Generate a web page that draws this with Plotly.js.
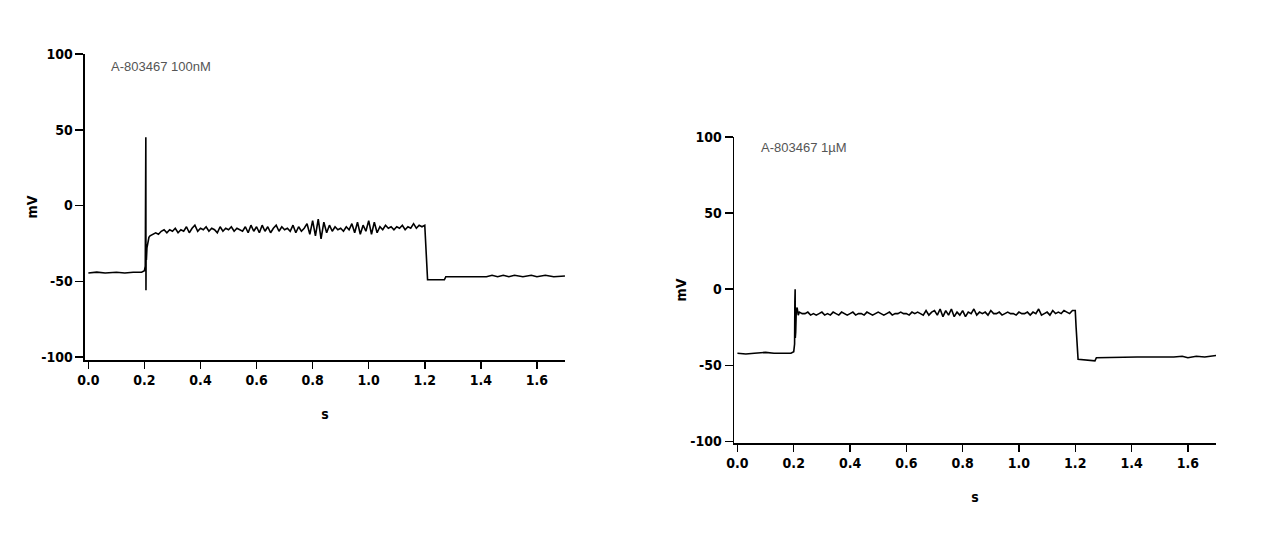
<!DOCTYPE html>
<html>
<head>
<meta charset="utf-8">
<script src="https://cdn.plot.ly/plotly-3.0.1.min.js"></script>
<style>
  html, body { margin: 0; padding: 0; background: #fff; }
  #plot { width: 1263px; height: 539px; }
</style>
</head>
<body>
<div id="plot"></div>
<script>
// time points (s) and membrane potential (mV)
var tStart = [0, 0.03, 0.06, 0.1, 0.13, 0.16, 0.19, 0.2, 0.203, 0.204, 0.2045, 0.205, 0.2055, 0.206, 0.207, 0.209, 0.212, 0.216, 0.22, 0.23, 0.24];
var tPlateau = [0.25, 0.26, 0.27, 0.28, 0.29, 0.30, 0.31, 0.32, 0.33, 0.34,
                0.35, 0.36, 0.37, 0.38, 0.39, 0.40, 0.41, 0.42, 0.43, 0.44,
                0.45, 0.46, 0.47, 0.48, 0.49, 0.50, 0.51, 0.52, 0.53, 0.54,
                0.55, 0.56, 0.57, 0.58, 0.59, 0.60, 0.61, 0.62, 0.63, 0.64,
                0.65, 0.66, 0.67, 0.68, 0.69, 0.70, 0.71, 0.72, 0.73, 0.74,
                0.75, 0.76, 0.77, 0.78, 0.79, 0.80, 0.81, 0.82, 0.83, 0.84,
                0.85, 0.86, 0.87, 0.88, 0.89, 0.90, 0.91, 0.92, 0.93, 0.94,
                0.95, 0.96, 0.97, 0.98, 0.99, 1.00, 1.01, 1.02, 1.03, 1.04,
                1.05, 1.06, 1.07, 1.08, 1.09, 1.10, 1.11, 1.12, 1.13, 1.14,
                1.15, 1.16, 1.17, 1.18, 1.19];
var tEnd = [1.2, 1.203, 1.207, 1.21, 1.27, 1.275, 1.42, 1.44, 1.46, 1.48, 1.5, 1.52, 1.55, 1.58, 1.6, 1.63, 1.66, 1.7];

// A-803467 100nM
var vStart100 = [-44.5, -44, -44.5, -44, -44.5, -44, -44, -43, -40, 2, -38, 45, -56, -30, -36, -28, -24, -21, -20, -19, -18];
var vPlateau100 = [-19, -17, -16, -18, -16, -17, -15, -18, -16, -17,
                   -14, -18, -15, -13, -17, -15, -16, -14, -17, -15,
                   -16, -18, -14, -17, -15, -16, -14, -17, -15, -16,
                   -17, -14, -18, -13, -17, -14, -18, -13, -17, -14,
                   -18, -15, -13, -17, -14, -16, -15, -17, -13, -18,
                   -14, -17, -15, -12, -19, -10, -20, -9, -22, -11,
                   -18, -13, -17, -14, -16, -15, -17, -14, -16, -12,
                   -18, -11, -19, -13, -17, -10, -19, -11, -18, -14,
                   -16, -13, -15, -14, -16, -14, -15, -13, -16, -14,
                   -15, -12, -15, -13, -14];
var vEnd100 = [-13, -25, -36, -49, -49, -47, -47, -46, -47, -46, -47, -46, -47, -46, -47, -46, -47, -46.5];

// A-803467 1µM
var vStart1 = [-42, -42.5, -42, -41.5, -42, -42, -42, -41, -36, -8, -30, 0, -32, -12, -28, -14, -12, -17, -15, -16, -16];
var vPlateau1 = [-15, -17, -16, -17, -16, -15, -17, -16, -17, -15,
                 -16, -17, -15, -16, -17, -16, -15, -17, -16, -16,
                 -17, -15, -16, -17, -16, -15, -16, -17, -16, -15,
                 -17, -16, -16, -15, -16, -16, -17, -15, -16, -15,
                 -16, -17, -14, -17, -15, -14, -17, -13, -18, -14,
                 -17, -13, -18, -15, -17, -14, -18, -15, -16, -13,
                 -17, -15, -16, -15, -17, -14, -16, -16, -15, -17,
                 -16, -15, -16, -16, -17, -15, -16, -16, -15, -17,
                 -15, -16, -13, -17, -16, -15, -17, -14, -16, -15,
                 -16, -14, -15, -16, -14];
var vEnd1 = [-14, -25, -36, -46, -47, -45, -44.5, -44.5, -44.5, -44.5, -44.5, -44.5, -44.5, -44, -45, -44, -44.5, -43.5];

var labels = ['A-803467 100nM', 'A-803467 1\u00b5M'];
var xTicks = [0, 0.2, 0.4, 0.6, 0.8, 1.0, 1.2, 1.4, 1.6];
var xTickText = ['0.0', '0.2', '0.4', '0.6', '0.8', '1.0', '1.2', '1.4', '1.6'];
var yTicks = [-100, -50, 0, 50, 100];
var yTickText = ['-100', '-50', '0', '50', '100'];

var t = tStart.concat(tPlateau, tEnd);
var narrow = 'DejaVu Sans Condensed, Liberation Sans Narrow, sans-serif';
var tickFont = {family: narrow, size: 14, color: '#000', weight: 700};
var titleFont = {family: narrow, size: 14, color: '#000', weight: 700};

var data = [
    {x: t, y: vStart100.concat(vPlateau100, vEnd100), mode: 'lines', line: {color: '#000', width: 1.6}, xaxis: 'x', yaxis: 'y', hoverinfo: 'skip'},
    {x: t, y: vStart1.concat(vPlateau1, vEnd1), mode: 'lines', line: {color: '#000', width: 1.6}, xaxis: 'x2', yaxis: 'y2', hoverinfo: 'skip'}
];

function xAxis(domain, anchor) {
    return {
        domain: domain, anchor: anchor, range: [-0.012, 1.7],
        tickvals: xTicks, ticktext: xTickText, tickfont: tickFont,
        ticks: 'outside', ticklen: 7, tickwidth: 1.5, tickcolor: '#000',
        showline: true, linecolor: '#000', linewidth: 1.5,
        showgrid: false, zeroline: false,
        title: {text: 's', font: titleFont, standoff: 22}
    };
}
function yAxis(domain, anchor, lo) {
    return {
        domain: domain, anchor: anchor, range: [lo, 100],
        tickvals: yTicks, ticktext: yTickText, tickfont: tickFont,
        ticks: 'outside', ticklen: 8, tickwidth: 1.5, tickcolor: '#000',
        showline: true, linecolor: '#000', linewidth: 1.5,
        showgrid: false, zeroline: false,
        title: {text: 'mV', font: titleFont, standoff: 0}
    };
}

var layout = {
    width: 1263, height: 539,
    margin: {l: 0, r: 0, t: 0, b: 0},
    paper_bgcolor: '#fff', plot_bgcolor: '#fff',
    showlegend: false,
    xaxis: xAxis([0.0673, 0.4473], 'y'),
    yaxis: yAxis([0.332, 0.8998], 'x', -102),
    xaxis2: xAxis([0.5812, 0.9628], 'y2'),
    yaxis2: yAxis([0.1781, 0.7458], 'x2', -101),
    annotations: [
        {text: labels[0], x: 0.075, y: 92, xref: 'x', yref: 'y', xanchor: 'left', yanchor: 'middle', showarrow: false,
         font: {family: 'Liberation Sans, sans-serif', size: 13, color: '#555'}},
        {text: labels[1], x: 0.078, y: 93, xref: 'x2', yref: 'y2', xanchor: 'left', yanchor: 'middle', showarrow: false,
         font: {family: 'Liberation Sans, sans-serif', size: 13, color: '#555'}}
    ]
};

Plotly.newPlot('plot', data, layout, {staticPlot: true});
</script>
</body>
</html>
